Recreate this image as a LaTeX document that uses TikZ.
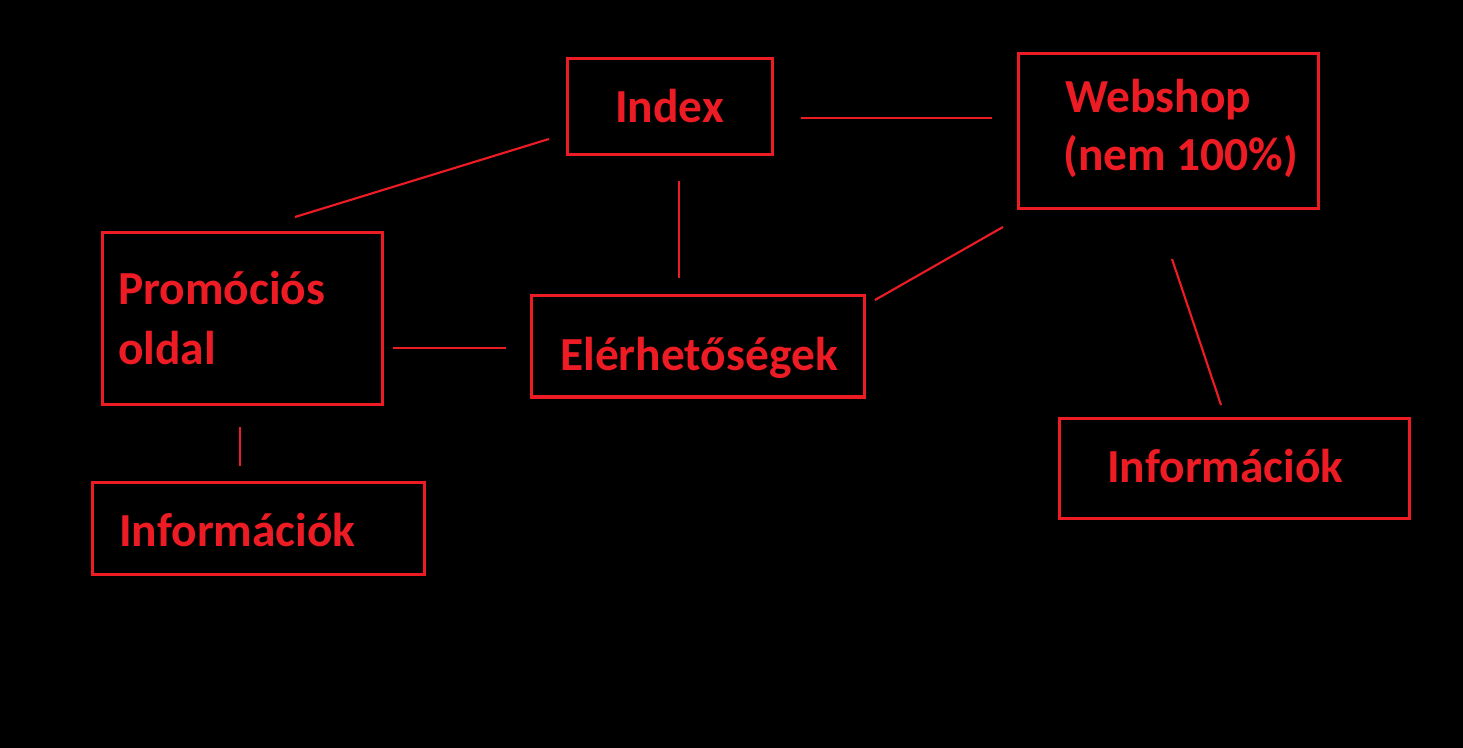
\documentclass[tikz,border=0pt]{standalone}
\usepackage{fontspec}
\setmainfont{Carlito}
\definecolor{boxred}{HTML}{ED1C24}
\begin{document}
\begin{tikzpicture}[x=0.75pt,y=-0.75pt,
  frame/.style={draw=boxred,line width=2.25pt,rectangle,inner sep=0pt},
  lbl/.style={anchor=base west,inner sep=0pt,text=boxred,font=\fontsize{35.6}{42}\selectfont\bfseries},
  link/.style={draw=boxred,line width=1.6pt}]
\fill[black] (0,0) rectangle (1463,748);
\useasboundingbox (0,0) rectangle (1463,748);
% boxes
\node[frame,minimum width=205*0.75pt,minimum height=96*0.75pt] (index) at (669.5,107) {};
\node[frame,minimum width=300*0.75pt,minimum height=155*0.75pt] (web) at (1168,131.5) {};
\node[frame,minimum width=280*0.75pt,minimum height=171*0.75pt] (promo) at (242,318.5) {};
\node[frame,minimum width=333*0.75pt,minimum height=101*0.75pt] (eler) at (697.5,346.5) {};
\node[frame,minimum width=332*0.75pt,minimum height=92*0.75pt] (infoL) at (258,528) {};
\node[frame,minimum width=350*0.75pt,minimum height=100*0.75pt] (infoR) at (1234,468) {};
% texts
\node[lbl] (tindex) at (615,123) {Index};
\node[lbl] (tweb1) at (1065,113) {Webshop};
\node[lbl] (tweb2) at (1063,171) {(nem 100\%)};
\node[lbl] (tpromo1) at (118,305) {Promóciós};
\node[lbl] (tpromo2) at (118,364) {oldal};
\node[lbl] (teler) at (560,371) {Elérhetőségek};
\node[lbl] (tinfoL) at (119,546) {Információk};
\node[lbl] (tinfoR) at (1107,482) {Információk};
% connector end points
\coordinate (a1) at (549,139); \coordinate (a2) at (295,217);
\coordinate (b1) at (801,118); \coordinate (b2) at (992,118);
\coordinate (c1) at (679,181); \coordinate (c2) at (679,278);
\coordinate (d1) at (1003,227); \coordinate (d2) at (875,300);
\coordinate (e1) at (1172,259); \coordinate (e2) at (1221,405);
\coordinate (f1) at (393,348); \coordinate (f2) at (506,348);
\coordinate (g1) at (240,427); \coordinate (g2) at (240,466);
\draw[link] (a1) -- (a2);
\draw[link] (b1) -- (b2);
\draw[link] (c1) -- (c2);
\draw[link] (d1) -- (d2);
\draw[link] (e1) -- (e2);
\draw[link] (f1) -- (f2);
\draw[link] (g1) -- (g2);
\end{tikzpicture}
\end{document}
